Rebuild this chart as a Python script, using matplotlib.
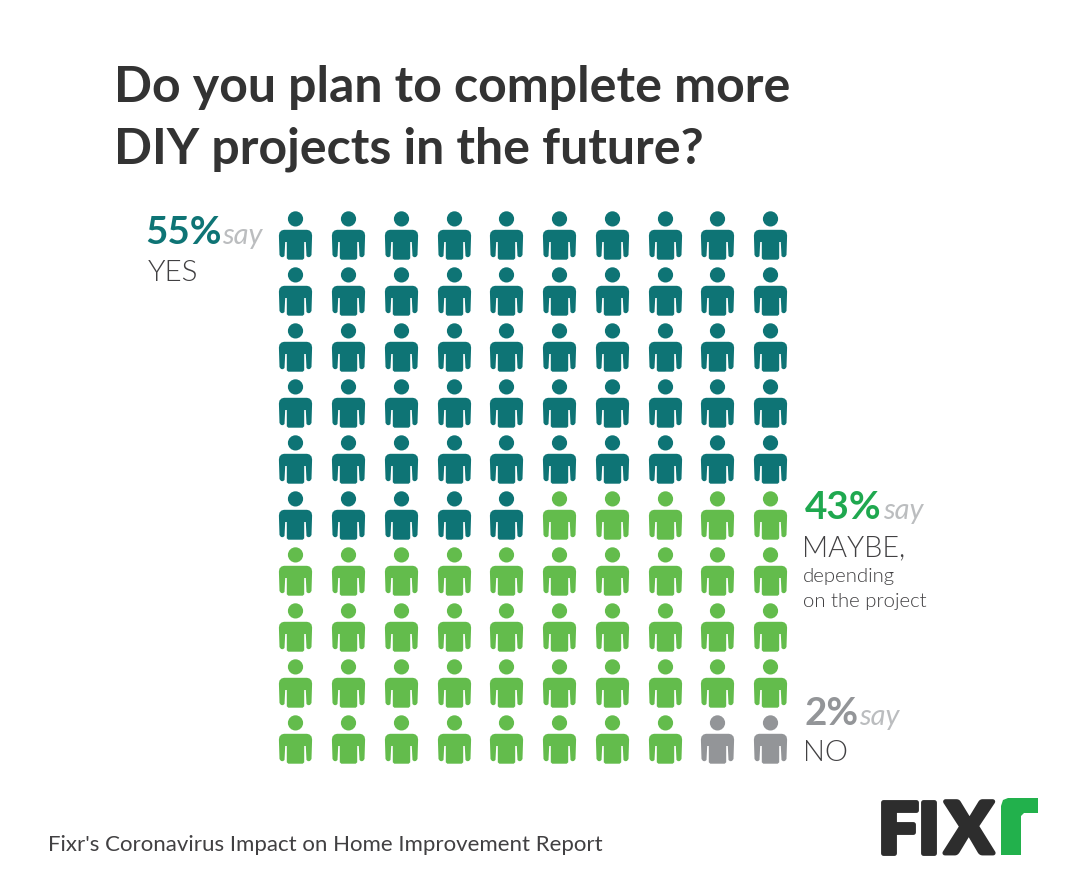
import numpy as np
import matplotlib
matplotlib.use('Agg')
import matplotlib.pyplot as plt
from matplotlib.path import Path
from matplotlib.patches import PathPatch
import matplotlib.patheffects as pe

# survey answers, one person icon per percent
answers = ['YES', 'MAYBE', 'NO']
shares = [55, 43, 2]
icon_colors = ['#0e7475', '#63bc4c', '#939598']
n_rows = 10
n_cols = 10

W, H = 1085, 893
plt.rcParams['font.family'] = ['Lato', 'DejaVu Sans']


def person_marker():
	"""Person icon in pixel units around its centre, y pointing up"""
	k = 0.5523
	r = 7.6
	cy = 16.6
	verts = [(0, cy+r), (k*r, cy+r), (r, cy+k*r), (r, cy),
		(r, cy-k*r), (k*r, cy-r), (0, cy-r),
		(-k*r, cy-r), (-r, cy-k*r), (-r, cy),
		(-r, cy+k*r), (-k*r, cy+r), (0, cy+r)]
	codes = [Path.MOVETO] + [Path.CURVE4]*12
	# right half of the body, mirrored below
	half = [(0, 5.7), (11.5, 5.7), (14, 5), (16, 3), (16.6, 0), (16, -19.5), (14.5, -21.5), (12.5, -21.7), (11, -20.5),
		(10.3, -6.5), (8.7, -6.5), (8.7, -22.8), (7.2, -24.2), (0, -24.2)]
	body = half + [(-x, y) for x, y in half[::-1][1:]]
	verts += body
	codes += [Path.MOVETO] + [Path.LINETO]*(len(body)-1)
	return Path(verts, codes)


fig = plt.figure(figsize=(W/100, H/100), dpi=100)

# page layer in pixel coordinates for text and logo
bg = fig.add_axes([0, 0, 1, 1])
bg.set_xlim(0, W)
bg.set_ylim(H, 0)
bg.axis('off')

# icon grid, axes coordinates are column and row numbers
left, right, top, bottom = 269.1, 796.4, 206.75, 766.75
ax = fig.add_axes([left/W, 1-bottom/H, (right-left)/W, (bottom-top)/H])
ax.set_xlim(-0.5, n_cols-0.5)
ax.set_ylim(n_rows-0.5, -0.5)
ax.axis('off')

rows, cols = np.divmod(np.arange(sum(shares)), n_cols)
groups = np.repeat(np.arange(len(shares)), shares)
marker = person_marker()
for g, c in enumerate(icon_colors):
	ax.scatter(cols[groups == g], rows[groups == g], marker=marker, s=(48.4*0.72)**2, color=c, linewidths=0)

# title
title_color = '#333333'
bg.text(114, 88, 'Do you plan to complete more', fontsize=36.05, fontweight='bold', color=title_color, va='center')
bg.text(114, 149, 'DIY projects in the future?', fontsize=36.05, fontweight='bold', color=title_color, va='center')

# labels
say_color = '#bbbdbf'
dark = '#414042'
def pct_label(x, y, pct, color):
	t = bg.text(x, y, '%d%%' % pct, fontsize=27.8, fontweight='bold', color=color, va='baseline')
	fig.canvas.draw()
	bb = t.get_window_extent()
	bg.text(bb.x1+1, y, 'say', fontsize=21, style='italic', color=say_color, va='baseline')

pct_label(145, 244, shares[0], '#0e7475')
bg.text(148, 281, answers[0], fontsize=21.3, fontweight=300, color=dark, va='baseline')

pct_label(805, 519, shares[1], '#1fa84f')
bg.text(802, 556, answers[1] + ',', fontsize=20.8, fontweight=300, color=dark, va='baseline')
bg.text(803, 582, 'depending', fontsize=14.7, fontweight=300, color=dark, va='baseline')
bg.text(803, 607, 'on the project', fontsize=14.7, fontweight=300, color=dark, va='baseline')

pct_label(804, 725, shares[2], '#939598')
bg.text(803, 761, answers[2], fontsize=21, fontweight=300, color=dark, va='baseline')

# source
bg.text(48, 851, "Fixr's Coronavirus Impact on Home Improvement Report", fontsize=16, color=dark, va='baseline')

# logo, letters set one by one because the mark is tighter than any installed face
logo_letters = ['F', 'I', 'X']
logo_x = [878, 918, 945]
for letter, x in zip(logo_letters, logo_x):
	bg.text(x, 853, letter, fontsize=51, fontweight='black', color='#2d2d2d', va='baseline',
		path_effects=[pe.withStroke(linewidth=3.5, foreground='#2d2d2d')])
r_verts = [(1021, 855), (1001, 855), (1001, 806), (1003, 800), (1008, 798), (1038, 798), (1038, 813), (1024, 813), (1021, 816), (1021, 855)]
bg.add_patch(PathPatch(Path(r_verts), facecolor='#22b14c', edgecolor='none'))

fig.savefig('out.png', dpi=100)
